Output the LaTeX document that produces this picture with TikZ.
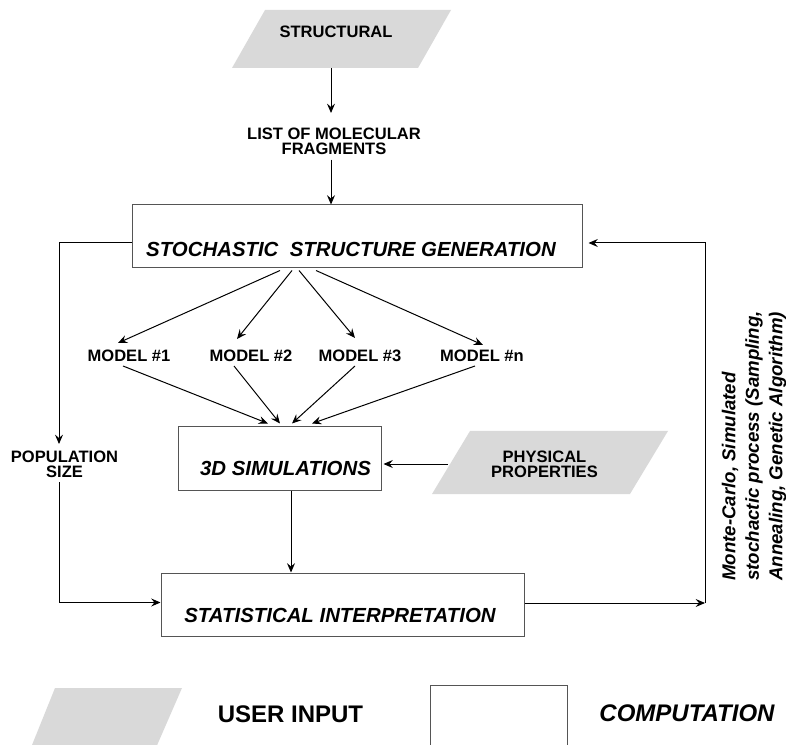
\documentclass[tikz,border=0pt]{standalone}
\usepackage{fontspec}
\setmainfont{Liberation Sans}
\usetikzlibrary{arrows.meta,calc}
\definecolor{inputgray}{RGB}{217,217,217}
\definecolor{boxgray}{RGB}{85,85,85}
\begin{document}
\begin{tikzpicture}[x=0.75pt,y=-0.75pt,
  conn/.style={draw=black, line width=0.75pt, -{Stealth[length=7pt,width=6pt,inset=2.5pt]}},
  compbox/.style={draw=boxgray, line width=0.75pt, fill=white, inner sep=0pt},
  inshape/.style={fill=inputgray},
  lbl/.style={font=\bfseries\fontsize{12.4}{11.25}\selectfont, align=center, inner sep=0pt},
  boxtxt/.style={font=\bfseries\itshape\fontsize{15.3}{18}\selectfont, inner sep=0pt},
  legtxt/.style={font=\bfseries\fontsize{18}{20}\selectfont, inner sep=0pt},
  sidetxt/.style={font=\bfseries\itshape\fontsize{14}{17.6}\selectfont, align=left, inner sep=0pt}]
\useasboundingbox (0,0) rectangle (786,745);
\begin{scope}
\clip (0,0) rectangle (786,745);
% user input shapes
\fill[inshape] (265,10) -- (451,10) -- (418,68) -- (232,68) -- cycle;
\fill[inshape] (470,431) -- (668,431) -- (630,494) -- (432,494) -- cycle;
\fill[inshape] (55,688) -- (182,688) -- (155,750) -- (30,750) -- cycle;
% computation boxes
\node[compbox, minimum width=337.5pt, minimum height=47.25pt] (ssg) at (357,236.5) {};
\node[compbox, minimum width=152.25pt, minimum height=47.25pt] (sim) at (279.5,458.5) {};
\node[compbox, minimum width=272.25pt, minimum height=47.25pt] (stat) at (342.5,604.5) {};
\node[compbox, minimum width=102.75pt, minimum height=56.25pt] (legbox) at (498.5,722.5) {};
% texts
\node[lbl] (struct) at (336,32) {STRUCTURAL};
\node[lbl] (list) at (334,141) {LIST OF MOLECULAR\\FRAGMENTS};
\node[boxtxt] (ssgtext) at (351,249) {STOCHASTIC\ \ STRUCTURE GENERATION};
\node[lbl] (m1) at (129,356) {MODEL \#1};
\node[lbl] (m2) at (251,356) {MODEL \#2};
\node[lbl] (m3) at (360,356) {MODEL \#3};
\node[lbl] (mn) at (482,356) {MODEL \#n};
\node[boxtxt] (simtext) at (285.5,468) {3D SIMULATIONS};
\node[lbl] (phys) at (544.5,464.5) {PHYSICAL\\PROPERTIES};
\node[lbl] (pop) at (64.5,464.5) {POPULATION\\SIZE};
\node[boxtxt] (stattext) at (340,615) {STATISTICAL INTERPRETATION};
\node[sidetxt, rotate=90, anchor=west] (mc) at (754,581) {Monte-Carlo, Simulated\\stochactic process (Sampling,\\Annealing, Genetic Algorithm)};
\node[legtxt] (ui) at (290.5,714) {USER INPUT};
\node[legtxt, font=\bfseries\itshape\fontsize{18}{20}\selectfont] (comp) at (687,713) {COMPUTATION};
% coordinates
\coordinate (sb) at (331,68);
\coordinate (popin) at (59,444);
\coordinate (popout) at (59,482);
\coordinate (fbcorner) at (705,603);
\coordinate (physin) at (448,464);
\coordinate (simout) at ($(sim.south)+(11.5,0)$);
% connectors
\draw[conn] (sb) -- ++(0,45);
\draw[conn] ($(list.south -| sb)+(0,5)$) -- (sb |- ssg.north);
\draw[conn] ($(ssg.west)+(0,6.5)$) -| (popin);
\draw[conn] (popout) |- ($(stat.west)+(0,-2)$);
\draw[conn] ($(stat.east)+(0,-1.5)$) -- (fbcorner);
\draw[conn] (fbcorner) |- ($(ssg.east)+(6,6.5)$);
\draw[conn] (physin) -- ($(sim.east)+(2,5.5)$);
\draw[conn] (simout) -- (simout |- stat.north);
% fan out
\draw[conn] ($(ssg.south)+(-77,2)$) -- ($(m1)+(-11,-13)$);
\draw[conn] ($(ssg.south)+(-65,2)$) -- ($(m2)+(-14,-17)$);
\draw[conn] ($(ssg.south)+(-58,2)$) -- ($(m3)+(-5,-18)$);
\draw[conn] ($(ssg.south)+(-41,2)$) -- ($(mn)+(1,-11)$);
% fan in
\draw[conn] ($(m1)+(-6,10)$) -- ($(sim.north)+(-11.5,-3)$);
\draw[conn] ($(m2)+(-17,10)$) -- ($(sim.north)+(0.5,-3)$);
\draw[conn] ($(m3)+(-5,10)$) -- ($(sim.north)+(12.5,-3)$);
\draw[conn] ($(mn)+(-7,10)$) -- ($(sim.north)+(32.5,-3)$);
\end{scope}
\end{tikzpicture}
\end{document}
